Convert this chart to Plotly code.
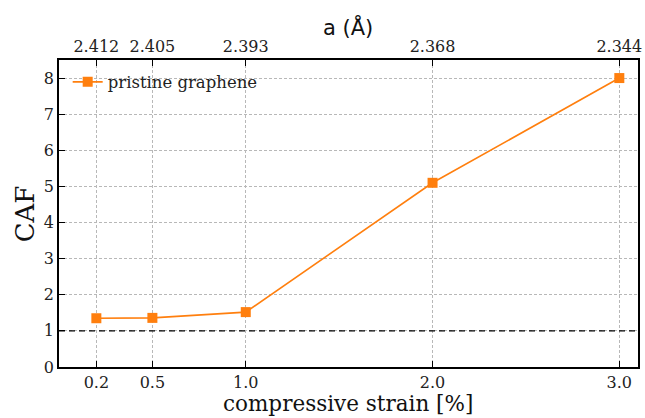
import plotly.graph_objects as go

strain = [0.2, 0.5, 1.0, 2.0, 3.0]
caf = [1.35, 1.36, 1.52, 5.1, 8.0]
lattice_labels = ["2.412", "2.405", "2.393", "2.368", "2.344"]
x_tick_text = ["0.2", "0.5", "1.0", "2.0", "3.0"]
y_ticks = [0, 1, 2, 3, 4, 5, 6, 7, 8]

SERIF = "DejaVu Serif"
ORANGE = "#ff7f0e"

fig = go.Figure()
fig.add_trace(go.Scatter(
    x=strain, y=caf, mode="lines+markers", name="pristine graphene",
    line=dict(color=ORANGE, width=1.6),
    marker=dict(symbol="square", size=10, color=ORANGE),
))
# invisible trace to hold top axis
fig.add_trace(go.Scatter(x=strain, y=caf, xaxis="x2", mode="markers",
                         marker=dict(opacity=0), showlegend=False, hoverinfo="skip"))

fig.add_shape(type="line", xref="paper", x0=0, x1=1, yref="y", y0=1, y1=1,
              line=dict(color="black", width=1.3, dash="6px,4px"))

axis_common = dict(ticks="inside", ticklen=6, tickwidth=1, tickcolor="black",
                   showline=True, linecolor="black", linewidth=1.5, automargin=False,
                   tickfont=dict(family=SERIF, size=16, color="#222"))

GRID = dict(showgrid=True, gridcolor="#b8b8b8", gridwidth=0.6, griddash="3px,2px")

fig.update_layout(
    width=645, height=418,
    margin=dict(l=59, r=7, t=60, b=51),
    plot_bgcolor="white", paper_bgcolor="white",
    showlegend=True,
    legend=dict(x=0.015, y=0.985, xanchor="left", yanchor="top",
                bgcolor="rgba(0,0,0,0)",
                font=dict(family=SERIF, size=16.5, color="#222")),
    xaxis=dict(range=[0, 3.1], tickvals=strain, ticktext=x_tick_text,
               zeroline=False, mirror=False,
               **GRID, **axis_common),
    xaxis2=dict(range=[0, 3.1], tickvals=strain, ticktext=lattice_labels,
                overlaying="x", side="top", anchor="y", showgrid=False, zeroline=False,
                **axis_common),
    yaxis=dict(range=[0, 8.5], tickvals=y_ticks,
               zeroline=False, mirror=True,
               **GRID, **axis_common),
)

fig.add_annotation(text="CAF", xref="paper", yref="paper", x=-0.059, y=0.5,
                   xanchor="center", yanchor="middle", textangle=-90, showarrow=False,
                   borderpad=0, font=dict(family=SERIF, size=26, color="#111"))
fig.add_annotation(text="compressive strain [%]", xref="paper", yref="paper", x=0.499, y=-0.12,
                   xanchor="center", yanchor="middle", showarrow=False,
                   borderpad=0, font=dict(family=SERIF, size=21.5, color="#111"))
fig.add_annotation(text="a (Å)", xref="paper", yref="paper", x=0.499, y=1.107,
                   xanchor="center", yanchor="middle", showarrow=False,
                   borderpad=0, font=dict(family="DejaVu Sans", size=21, color="#111"))

fig.write_html("out.html")
